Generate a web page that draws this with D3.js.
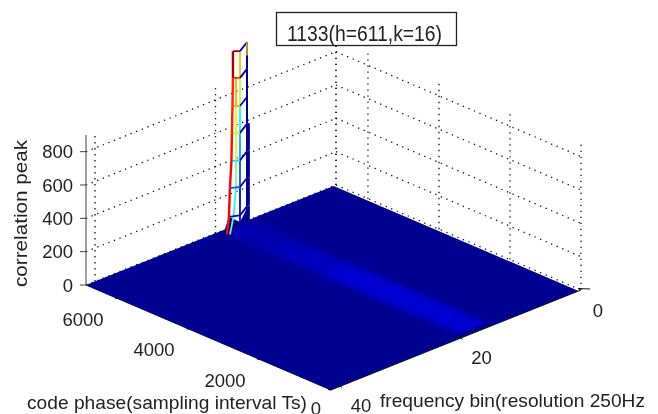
<!DOCTYPE html>
<html lang="en">
<head>
<meta charset="UTF-8">
<title>Correlation peak</title>
<script src="https://d3js.org/d3.v7.min.js"></script>
<style>
  body { margin: 0; background: white; }
  svg { display: block; filter: blur(0.35px); }
  text { font-family: "Liberation Sans", Arial, sans-serif; font-size: 18.5px; fill: #222; }
</style>
</head>
<body>
<div id="chart"></div>
<script>
const width = 658;
const height = 414;

// axes
const freqRange = [0, 41.5];
const phaseRange = [0, 6900];
const zRange = [0, 900];
const freqTicks = [0, 20, 40];
const phaseTicks = [0, 2000, 4000, 6000];
const zTicks = [0, 200, 400, 600, 800];
const peakValue = 1133;
const boxLabel = "1133(h=611,k=16)";
const zTitle = "correlation peak";
const phaseTitle = "code phase(sampling interval Ts)";
const freqTitle = "frequency bin(resolution 250Hz";

// noise floor and the brighter ridge along code phase
const floorValue = 3;
const floorFreq = [0.4, 41.5];
const ridgeFreq = [13.5, 14.5, 15.5, 16.5, 17.5, 18.5, 19.5, 20.5];
const ridgePhase = [6800, 6400, 6000, 5600, 5200, 4800, 4400, 4100, 3700, 3250, 2750, 2300, 1850, 1400, 950, 550, 200];
const ridgeValues = [
  [10, 36, 44, 46, 42, 34, 8],
  [8, 34, 42, 44, 40, 32, 10],
  [10, 30, 38, 40, 38, 30, 7],
  [7, 44, 56, 58, 54, 42, 10],
  [11, 46, 60, 62, 58, 40, 8],
  [8, 44, 58, 64, 60, 44, 11],
  [10, 46, 60, 60, 56, 42, 8],
  [12, 62, 78, 84, 78, 60, 10],
  [9, 68, 84, 90, 82, 64, 12],
  [11, 64, 82, 88, 84, 62, 9],
  [8, 70, 86, 92, 86, 66, 11],
  [12, 68, 84, 90, 82, 64, 8],
  [9, 64, 82, 88, 86, 68, 12],
  [11, 70, 86, 86, 80, 62, 9],
  [8, 62, 80, 86, 84, 66, 10],
  [10, 64, 82, 84, 78, 60, 8]
];

// the spike: contour levels and the mesh columns that join them
const peakLevels = [0, 100, 270, 430, 595, 756, 925, 1085];
const leftFreq = [19.27, 18.93, 18.77, 18.52, 18.44, 18.35, 18.27, 18.27];
const leftPhase = 6703;
const leftValues = [980, 1000, 990, 980, 960, 950, 1090];
const innerFreq = [19.0, 18.4, 18.0, 18.0, 18.0, 18.0, 18.0];
const innerPhase = 6662;
const innerValues = [520, 450, 560, 650, 730, 800];
const midFreq = 17.66;
const midPhase = 6608;
const midValues = [60, 110, 230, 330, 425, 620, 780];
const rightFreq = 15.26;
const rightPhase = 6818;
const rightValues = [8, 8, 8, 8, 10, 12, 20];
const ringValues = [110, 250, 400, 640, 800, 950, 1100];
const ringBackValues = [40, 60, 70, 60, 50, 40, 70];
const tipLevels = [1005, 1085];
const tipValue = 800;
const heavyFreq = 14.95;
const heavyLevels = [0, 100, 270, 430, 595];
const bumpFreq = [19.9, 18.93, 17.66, 15.26, 15.26];
const bumpPhase = [6716, 6703, 6608, 6818, 6818];
const bumpLevels = [0, 100, 60, 90, 0];

// three scales, each one the screen offset along one box edge
const fx = d3.scaleLinear().domain(freqRange).range([0, -250]);
const fy = d3.scaleLinear().domain(freqRange).range([0, 100]);
const cx = d3.scaleLinear().domain(phaseRange).range([0, -245]);
const cy = d3.scaleLinear().domain(phaseRange).range([0, -105]);
const zy = d3.scaleLinear().domain(zRange).range([0, -150]);

function project(f, c, z) {
  return [581 + fx(f) + cx(c), 290 + fy(f) + cy(c) + zy(z)];
}

// matlab jet
const jet = d3.scaleLinear()
  .domain([0, 0.125, 0.375, 0.625, 0.875, 1].map(t => t * peakValue))
  .range(["#00008f", "#0000ff", "#00ffff", "#ffff00", "#ff0000", "#800000"]);

const line = d3.line();

const svg = d3.select("#chart")
  .append("svg")
  .attr("width", width)
  .attr("height", height);

const fMax = freqRange[1];
const cMax = phaseRange[1];
const zMax = zRange[1];

// dotted walls
const wallLines = [];
zTicks.forEach(z => {
  wallLines.push([project(fMax, cMax, z), project(0, cMax, z)]);
  wallLines.push([project(0, cMax, z), project(0, 0, z)]);
});
freqTicks.forEach(f => wallLines.push([project(f, cMax, 0), project(f, cMax, zMax)]));
phaseTicks.forEach(c => wallLines.push([project(0, c, 0), project(0, c, zMax)]));
wallLines.push([project(0, cMax, 0), project(0, cMax, zMax)]);

svg.selectAll(".wall")
  .data(wallLines)
  .join("path")
  .attr("class", "wall")
  .attr("d", line)
  .attr("fill", "none")
  .attr("stroke", "#111")
  .attr("stroke-width", 1.3)
  .attr("stroke-dasharray", "1.3 4.7");

// z axis
svg.append("path")
  .attr("d", line([project(fMax, cMax, 0), project(fMax, cMax, zMax)]))
  .attr("stroke", "#444")
  .attr("fill", "none");

svg.selectAll(".zTick")
  .data(zTicks)
  .join("path")
  .attr("class", "zTick")
  .attr("d", z => {
    const p = project(fMax, cMax, z);
    return line([p, [p[0] - 6, p[1]]]);
  })
  .attr("stroke", "#444");

// floor
const floorCorners = [
  project(floorFreq[0], 0, 0),
  project(floorFreq[1], 0, 0),
  project(floorFreq[1], cMax, 0),
  project(floorFreq[0], cMax, 0)
];
svg.append("path")
  .attr("d", line(floorCorners) + "Z")
  .attr("fill", jet(floorValue));

// ridge cells
const ridgeCells = [];
ridgeValues.forEach((row, i) => {
  row.forEach((v, j) => {
    ridgeCells.push({
      value: v,
      points: [
        project(ridgeFreq[j], ridgePhase[i], 0),
        project(ridgeFreq[j + 1], ridgePhase[i], 0),
        project(ridgeFreq[j + 1], ridgePhase[i + 1], 0),
        project(ridgeFreq[j], ridgePhase[i + 1], 0)
      ]
    });
  });
});
svg.selectAll(".cell")
  .data(ridgeCells)
  .join("path")
  .attr("class", "cell")
  .attr("d", d => line(d.points) + "Z")
  .attr("fill", d => jet(d.value))
  .attr("stroke", d => jet(d.value))
  .attr("stroke-width", 0.5);

// front edges and their ticks
svg.append("path")
  .attr("d", line([project(fMax, 0, 0), project(0, 0, 0)]))
  .attr("stroke", "#111")
  .attr("fill", "none");
svg.append("path")
  .attr("d", line([project(fMax, cMax, 0), project(fMax, 0, 0)]))
  .attr("stroke", "#00006a")
  .attr("fill", "none");

svg.selectAll(".freqTick")
  .data(freqTicks)
  .join("path")
  .attr("class", "freqTick")
  .attr("d", f => {
    const p = project(f, 0, 0);
    return line([[p[0] - 3, p[1] - 1.5], [p[0] + (f === 0 ? 9 : 2), p[1] + (f === 0 ? -1 : 1)]]);
  })
  .attr("stroke", "#111");

svg.selectAll(".phaseTick")
  .data(phaseTicks)
  .join("path")
  .attr("class", "phaseTick")
  .attr("d", c => {
    const p = project(fMax, c, 0);
    return line([[p[0] - 3, p[1] - 0.5], [p[0], p[1]]]);
  })
  .attr("stroke", "#111");

// spike
svg.append("path")
  .attr("d", line(bumpFreq.map((f, i) => project(f, bumpPhase[i], bumpLevels[i]))) + "Z")
  .attr("fill", jet(floorValue));

function drawSegments(points, values, lineWidth) {
  values.forEach((v, i) => {
    svg.append("path")
      .attr("d", line([points[i], points[i + 1]]))
      .attr("fill", "none")
      .attr("stroke", jet(v))
      .attr("stroke-width", lineWidth);
  });
}

const rightColumn = peakLevels.map(z => project(rightFreq, rightPhase, z));
const midColumn = peakLevels.map(z => project(midFreq, midPhase, z));
const leftColumn = peakLevels.map((z, i) => project(leftFreq[i], leftPhase, z));
const innerColumn = innerFreq.map((f, i) => project(f, innerPhase, peakLevels[i]));

drawSegments(heavyLevels.map(z => project(heavyFreq, rightPhase, z)), [8, 8, 8, 8], 2);
drawSegments(rightColumn, rightValues, 2);
drawSegments(midColumn, midValues, 1.8);
drawSegments(innerColumn, innerValues, 1.8);

ringBackValues.forEach((v, i) => {
  drawSegments([midColumn[i + 1], rightColumn[i + 1]], [v], 1.8);
});
ringValues.forEach((v, i) => {
  drawSegments([leftColumn[i + 1], midColumn[i + 1]], [v], 1.8);
});
drawSegments(tipLevels.map(z => project(rightFreq, rightPhase, z)), [tipValue], 1.6);
drawSegments(leftColumn, leftValues, 2.4);

// tick labels
svg.selectAll(".zLabel")
  .data(zTicks)
  .join("text")
  .attr("class", "zLabel")
  .attr("text-anchor", "end")
  .attr("x", 73)
  .attr("y", z => project(fMax, cMax, z)[1] + 6.5)
  .text(z => z);

svg.selectAll(".phaseLabel")
  .data(phaseTicks)
  .join("text")
  .attr("class", "phaseLabel")
  .attr("text-anchor", "middle")
  .attr("x", c => project(fMax, c, 0)[0] + (c === 0 ? -15 : -35))
  .attr("y", c => project(fMax, c, 0)[1] + (c === 0 ? 25 : 27))
  .text(c => c);

svg.selectAll(".freqLabel")
  .data(freqTicks)
  .join("text")
  .attr("class", "freqLabel")
  .attr("text-anchor", "middle")
  .attr("x", f => project(f, 0, 0)[0] + (f === 0 ? 17 : 21))
  .attr("y", f => project(f, 0, 0)[1] + (f === 0 ? 27 : 26))
  .text(f => f);

// titles
svg.append("text")
  .attr("transform", "translate(27,287) rotate(-90)")
  .attr("textLength", 147)
  .attr("lengthAdjust", "spacingAndGlyphs")
  .text(zTitle);
svg.append("text")
  .attr("x", 27)
  .attr("y", 409)
  .attr("textLength", 280)
  .attr("lengthAdjust", "spacingAndGlyphs")
  .text(phaseTitle);
svg.append("text")
  .attr("x", 380)
  .attr("y", 407)
  .attr("textLength", 265)
  .attr("lengthAdjust", "spacingAndGlyphs")
  .text(freqTitle);

// data tip box
svg.append("rect")
  .attr("x", 276.5)
  .attr("y", 12.5)
  .attr("width", 180)
  .attr("height", 33)
  .attr("fill", "white")
  .attr("stroke", "#222")
  .attr("stroke-width", 1.3);
svg.append("text")
  .attr("x", 287)
  .attr("y", 41)
  .attr("textLength", 155)
  .attr("lengthAdjust", "spacingAndGlyphs")
  .style("font-size", "22px")
  .text(boxLabel);
</script>
</body>
</html>
